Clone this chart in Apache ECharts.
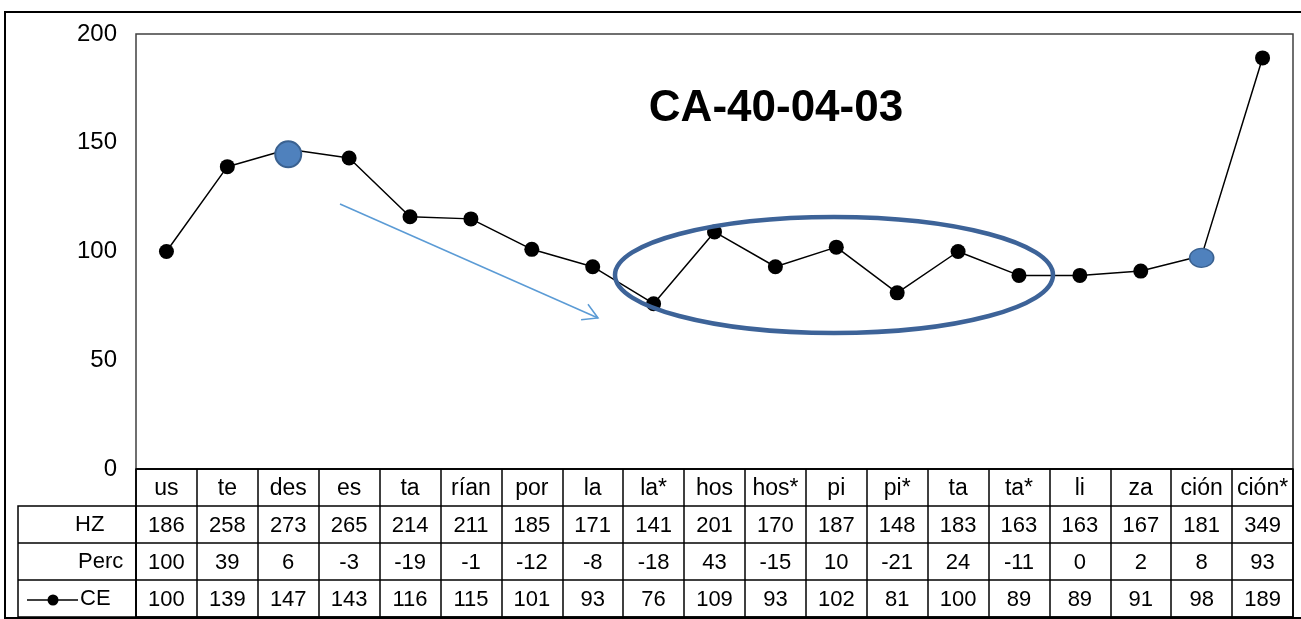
<!DOCTYPE html>
<html>
<head>
<meta charset="utf-8">
<title>CA-40-04-03</title>
<script src="https://cdn.jsdelivr.net/npm/echarts@6/dist/echarts.min.js"></script>
<style>
    html, body { margin: 0; padding: 0; background: #fff; }
    #chart { width: 1301px; height: 619px; }
</style>
</head>
<body>
<div id="chart"></div>
<script>
// values
const syllables = ['us', 'te', 'des', 'es', 'ta', 'rían', 'por', 'la', 'la*', 'hos', 'hos*', 'pi', 'pi*', 'ta', 'ta*', 'li', 'za', 'ción', 'ción*'];
const hz = [186, 258, 273, 265, 214, 211, 185, 171, 141, 201, 170, 187, 148, 183, 163, 163, 167, 181, 349];
const perc = [100, 39, 6, -3, -19, -1, -12, -8, -18, 43, -15, 10, -21, 24, -11, 0, 2, 8, 93];
const ce = [100, 139, 147, 143, 116, 115, 101, 93, 76, 109, 93, 102, 81, 100, 89, 89, 91, 98, 189];
const rowNames = ['', 'HZ', 'Perc', 'CE'];
const chartTitle = 'CA-40-04-03';

const FONT = '"Liberation Sans", Arial, sans-serif';

// table cells: row 0 = syllables, then HZ / Perc / CE
const tableRows = [syllables, hz, perc, ce];
const cells = [];
tableRows.forEach((row, r) => {
    row.forEach((v, c) => cells.push({ col: c, row: r, text: String(v) }));
});

// the two points circled in blue
const ceData = ce.map((v, i) => {
    if (i === 2) {
        return { value: v, symbolSize: 26, symbolOffset: [0, 5],
            itemStyle: { color: '#4F81BD', borderColor: '#3A6190', borderWidth: 2 } };
    }
    if (i === 17) {
        return { value: v, symbolSize: [24, 19], symbolOffset: [0, 2],
            itemStyle: { color: '#4F81BD', borderColor: '#3A6190', borderWidth: 1.5 } };
    }
    return v;
});

// arrow annotation
const arrowFrom = [340, 204], arrowTo = [598, 318];
const ang = Math.atan2(arrowTo[1] - arrowFrom[1], arrowTo[0] - arrowFrom[0]);
const headLen = 17;
const head = [ang + Math.PI / 6, ang - Math.PI / 6].map(a =>
    [arrowTo[0] - headLen * Math.cos(a), arrowTo[1] - headLen * Math.sin(a)]);

const chart = echarts.init(document.getElementById('chart'));

chart.setOption({
    animation: false,
    backgroundColor: '#fff',
    textStyle: { fontFamily: FONT },
    grid: [
        { left: 136, top: 34, width: 1157, height: 435, show: true, borderColor: '#404040', borderWidth: 1.5 },
        { left: 136, top: 469, width: 1157, height: 148, show: true, borderColor: '#000', borderWidth: 1.5 }
    ],
    xAxis: [
        { gridIndex: 0, type: 'category', data: syllables, boundaryGap: true,
          axisLabel: { show: false }, axisTick: { show: false }, axisLine: { show: false } },
        { gridIndex: 1, type: 'category', data: syllables, boundaryGap: true,
          axisLabel: { show: false }, axisTick: { show: false }, axisLine: { show: false },
          splitLine: { show: true, interval: 0, lineStyle: { color: '#000', width: 1.5 } } }
    ],
    yAxis: [
        { gridIndex: 0, type: 'value', min: 0, max: 200, interval: 50,
          axisLine: { show: false }, axisTick: { show: false }, splitLine: { show: false },
          axisLabel: { color: '#000', fontSize: 24, margin: 19, fontFamily: FONT } },
        { gridIndex: 1, type: 'category', data: rowNames, inverse: true, boundaryGap: true,
          axisLabel: { show: false }, axisTick: { show: false }, axisLine: { show: false },
          splitLine: { show: true, interval: 0, lineStyle: { color: '#000', width: 1.5 } } }
    ],
    series: [
        {
            name: 'CE',
            type: 'line',
            xAxisIndex: 0,
            yAxisIndex: 0,
            data: ceData,
            symbol: 'circle',
            symbolSize: 15,
            itemStyle: { color: '#000' },
            lineStyle: { color: '#000', width: 1.5 },
            z: 3
        },
        {
            name: 'table',
            type: 'custom',
            xAxisIndex: 1,
            yAxisIndex: 1,
            data: cells.map(c => [c.col, c.row]),
            renderItem: function (params, api) {
                const pt = api.coord([api.value(0), api.value(1)]);
                const cell = cells[params.dataIndex];
                return {
                    type: 'text',
                    x: pt[0],
                    y: pt[1] + 1,
                    style: {
                        text: cell.text,
                        fill: '#000',
                        font: (cell.row === 0 ? '23px ' : '22px ') + FONT,
                        align: 'center',
                        verticalAlign: 'middle'
                    }
                };
            }
        }
    ],
    graphic: [
        // outer frame
        { type: 'rect', shape: { x: 5, y: 12, width: 1310, height: 606 },
          style: { fill: 'none', stroke: '#000', lineWidth: 2 } },
        // row header column
        { type: 'rect', shape: { x: 18, y: 506, width: 118, height: 111 },
          style: { fill: 'none', stroke: '#000', lineWidth: 1.5 } },
        { type: 'line', shape: { x1: 18, y1: 543, x2: 136, y2: 543 }, style: { stroke: '#000', lineWidth: 1.5 } },
        { type: 'line', shape: { x1: 18, y1: 580, x2: 136, y2: 580 }, style: { stroke: '#000', lineWidth: 1.5 } },
        { type: 'text', x: 75, y: 525, style: { text: rowNames[1], font: '22px ' + FONT, fill: '#000', verticalAlign: 'middle' } },
        { type: 'text', x: 78, y: 562, style: { text: rowNames[2], font: '22px ' + FONT, fill: '#000', verticalAlign: 'middle' } },
        { type: 'text', x: 80, y: 599, style: { text: rowNames[3], font: '22px ' + FONT, fill: '#000', verticalAlign: 'middle' } },
        // legend key for CE
        { type: 'line', shape: { x1: 27, y1: 600, x2: 78, y2: 600 }, style: { stroke: '#000', lineWidth: 1.5 } },
        { type: 'circle', shape: { cx: 53, cy: 600, r: 5.5 }, style: { fill: '#000' } },
        // title
        { type: 'text', x: 776, y: 109, style: { text: chartTitle, font: 'bold 44px ' + FONT, fill: '#000',
          align: 'center', verticalAlign: 'middle' } },
        // ellipse annotation
        { type: 'ellipse', shape: { cx: 834, cy: 275, rx: 219, ry: 58 },
          style: { fill: 'none', stroke: '#3D6398', lineWidth: 4.5 }, z: 10 },
        // arrow annotation
        { type: 'polyline', shape: { points: [arrowFrom, arrowTo] },
          style: { stroke: '#5B9BD5', lineWidth: 1.5, fill: 'none' } },
        { type: 'polyline', shape: { points: [head[0], arrowTo, head[1]] },
          style: { stroke: '#5B9BD5', lineWidth: 1.5, fill: 'none' } }
    ]
});
</script>
</body>
</html>
